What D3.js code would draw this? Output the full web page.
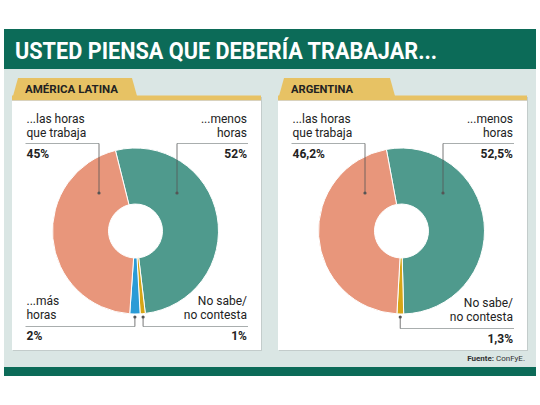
<!DOCTYPE html>
<html><head><meta charset="utf-8">
<script src="https://cdn.jsdelivr.net/npm/d3@7"></script>
<style>html,body{margin:0;padding:0;background:#fff;}svg{display:block;}</style>
</head><body>
<svg id="chart" width="540" height="405"></svg>
<script>
// ---- data ----
const title = "USTED PIENSA QUE DEBERÍA TRABAJAR...";
const source = ["Fuente:", " ConFyE."];
const panelNames = ["AMÉRICA LATINA", "ARGENTINA"];
const latamCategories = ["...menos horas", "No sabe/no contesta", "...más horas", "...las horas que trabaja"];
const latamValues = [52, 1, 2, 45];
const argCategories = ["...menos horas", "No sabe/no contesta", "...las horas que trabaja"];
const argValues = [52.5, 1.3, 46.2];

const colorScale = d3.scaleOrdinal()
  .domain(["...menos horas", "No sabe/no contesta", "...más horas", "...las horas que trabaja"])
  .range(["#4f9a8d", "#d7a516", "#2a9bd6", "#e8967b"]);

const fmt = v => String(v).replace(".", ",") + "%";

const svg = d3.select("#chart");
const FONT = "Roboto, 'Liberation Sans', sans-serif";

// background
svg.append("rect").attr("x", 4).attr("y", 29).attr("width", 532).attr("height", 340).attr("fill", "#dae6e4");
svg.append("rect").attr("x", 4).attr("y", 29).attr("width", 532).attr("height", 40).attr("fill", "#0c6b58");
svg.append("rect").attr("x", 4).attr("y", 367).attr("width", 532).attr("height", 9).attr("fill", "#0c6b58");
svg.append("text").attr("x", 15).attr("y", 59).attr("fill", "#fff")
  .attr("font-family", FONT).attr("font-weight", 700).attr("font-size", 24)
  .attr("textLength", 422).attr("lengthAdjust", "spacingAndGlyphs").text(title);

const src = svg.append("text").attr("x", 525).attr("y", 361).attr("text-anchor", "end")
  .attr("font-family", FONT).attr("font-size", 8).attr("fill", "#333");
src.append("tspan").attr("font-weight", 700).text(source[0]);
src.append("tspan").text(source[1]);

const panels = [
  {x: 12, name: panelNames[0], nameW: 93, tabW: 125, cats: latamCategories, vals: latamValues, start: -14,
   botY: [305, 319, 340]},
  {x: 278, name: panelNames[1], nameW: 62, tabW: 117, cats: argCategories, vals: argValues, start: -10.5,
   botY: [307, 321, 343]}
];

const W = 249;
panels.forEach(p => {
  const g = svg.append("g");
  // panel
  g.append("rect").attr("x", p.x + 1).attr("y", 97).attr("width", W).attr("height", 254).attr("fill", "#c3cccb");
  g.append("rect").attr("x", p.x).attr("y", 96).attr("width", W).attr("height", 254).attr("fill", "#fff");
  // tab
  g.append("path").attr("fill", "#e7c264")
    .attr("d", `M${p.x + 1},96 L${p.x + 6},78 L${p.x + p.tabW - 5},78 L${p.x + p.tabW},96 Z`);
  g.append("rect").attr("x", p.x).attr("y", 95.5).attr("width", W).attr("height", 4.5).attr("fill", "#e7c264");
  g.append("rect").attr("x", p.x).attr("y", 100).attr("width", W).attr("height", 1).attr("fill", "#d9d2bd");
  g.append("text").attr("x", p.x + 13).attr("y", 93).attr("fill", "#222")
    .attr("font-family", FONT).attr("font-weight", 700).attr("font-size", 11)
    .attr("textLength", p.nameW).attr("lengthAdjust", "spacingAndGlyphs").text(p.name);

  // pie
  const cx = p.x + 123.5, cy = 231, R = 83, r0 = 27;
  const a0 = p.start * Math.PI / 180;
  const pie = d3.pie().sort(null).startAngle(a0).endAngle(a0 + 2 * Math.PI);
  const arcs = pie(p.vals);
  const arc = d3.arc().innerRadius(r0).outerRadius(R);
  const pg = g.append("g").attr("transform", `translate(${cx},${cy})`);
  pg.selectAll("path").data(arcs).join("path")
    .attr("d", arc).attr("fill", (d, i) => colorScale(p.cats[i]))
    .attr("stroke", "#fff").attr("stroke-width", 1);

  const L = p.x + 14.5, Rx = p.x + 235;
  const txt = (x, y, s, anchor, bold) => g.append("text").attr("x", x).attr("y", y)
    .attr("text-anchor", anchor).attr("fill", "#222").attr("font-family", FONT)
    .attr("font-size", 12).attr("font-weight", bold ? 700 : 400).text(s);

  const lineC = "#a9aeae", leadC = "#555";
  arcs.forEach((d, i) => {
    const cat = p.cats[i];
    const mid = (d.startAngle + d.endAngle) / 2;
    if (cat === "...menos horas" || cat === "...las horas que trabaja") {
      const right = cat === "...menos horas";
      const lines = right ? ["...menos", "horas"] : ["...las horas", "que trabaja"];
      const ax = right ? Rx : L;
      const anchor = right ? "end" : "start";
      txt(ax, 123, lines[0], anchor);
      txt(ax, 137, lines[1], anchor);
      txt(ax, 158, fmt(d.data), anchor, true);
      const dx = right ? p.x + 165 : p.x + 87;
      g.append("line").attr("x1", right ? dx : L - 1).attr("x2", right ? Rx + 1 : dx)
        .attr("y1", 143.5).attr("y2", 143.5).attr("stroke", lineC);
      g.append("line").attr("x1", dx).attr("x2", dx).attr("y1", 143.5).attr("y2", 193).attr("stroke", leadC).attr("stroke-width", 0.8);
      g.append("circle").attr("cx", dx).attr("cy", 193).attr("r", 1.6).attr("fill", leadC);
    } else {
      const right = cat === "No sabe/no contesta";
      const lines = right ? ["No sabe/", "no contesta"] : ["...más", "horas"];
      const ax = right ? Rx : L;
      const anchor = right ? "end" : "start";
      txt(ax, p.botY[0], lines[0], anchor);
      txt(ax, p.botY[1], lines[1], anchor);
      txt(ax, p.botY[2], fmt(d.data), anchor, true);
      const dx = cx + (R + 4) * Math.sin(mid);
      const ly = p.botY[1] + 7.5;
      g.append("line").attr("x1", right ? dx : L - 1).attr("x2", right ? Rx + 1 : dx)
        .attr("y1", ly).attr("y2", ly).attr("stroke", lineC);
      g.append("line").attr("x1", dx).attr("x2", dx).attr("y1", ly).attr("y2", 317).attr("stroke", leadC).attr("stroke-width", 0.8);
      g.append("circle").attr("cx", dx).attr("cy", 317).attr("r", 1.6).attr("fill", leadC);
    }
  });
});
</script>
</body></html>
